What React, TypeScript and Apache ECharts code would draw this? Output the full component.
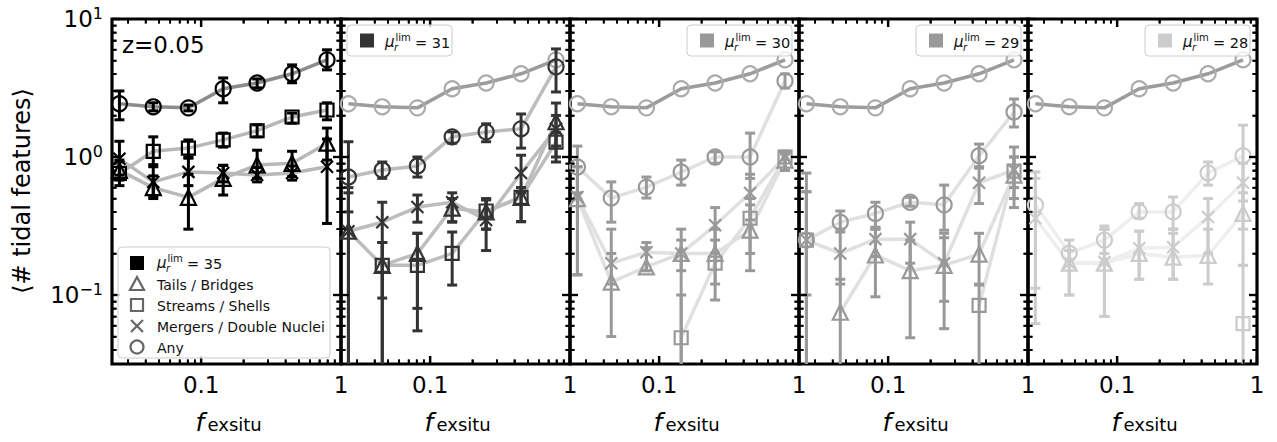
import React, { useEffect, useRef } from "react";
import * as echarts from "echarts";

// ---------- data ----------
const fx = [0.026, 0.0454, 0.081, 0.1436, 0.2512, 0.4467, 0.7943];
const muValues = ["35", "31", "30", "29", "28"];

const xMajor = [0.1, 1];
const xTickLabels = ["0.1", "1"];
const xMinor = [0.03, 0.04, 0.05, 0.06, 0.07, 0.08, 0.09, 0.2, 0.3, 0.4, 0.5, 0.6, 0.7, 0.8, 0.9];
const yMajor = [0.1, 1, 10];
const yTickExp = ["\u22121", "0", "1"];
const yMinor = [0.04, 0.05, 0.06, 0.07, 0.08, 0.09, 0.2, 0.3, 0.4, 0.5, 0.6, 0.7, 0.8, 0.9, 2, 3, 4, 5, 6, 7, 8, 9];

// mu = 35
const tails35 = [0.8, 0.6, 0.51, 0.7, 0.875, 0.9, 1.26];
const tails35Err = [[0.68, 0.95], [0.5, 0.73], [0.3, 0.75], [0.53, 0.87], [0.7, 1.12], [0.72, 1.1], [0.95, 1.62]];
const streams35 = [0.76, 1.1, 1.16, 1.33, 1.55, 1.95, 2.19];
const streams35Err = [[0.62, 0.92], [0.88, 1.4], [1.0, 1.33], [1.18, 1.49], [1.4, 1.71], [1.76, 2.08], [1.86, 2.47]];
const mergers35 = [0.97, 0.66, 0.78, 0.765, 0.74, 0.765, 0.85];
const mergers35Err = [[0.74, 1.3], [0.52, 0.85], [0.62, 0.98], [0.66, 0.87], [0.66, 0.84], [0.68, 0.86], [0.33, 1.35]];
const any35 = [2.43, 2.31, 2.27, 3.12, 3.44, 4.01, 5.06];
const any35Err = [[1.86, 3.01], [2.16, 2.47], [2.16, 2.38], [2.47, 3.74], [3.17, 3.68], [3.45, 4.65], [4.28, 5.98]];

// mu = 31
const tails31 = [0.29, 0.164, 0.2, 0.426, 0.4, 0.51, 1.8];
const tails31Err = [[0.001, 0.55], [0.001, 0.24], [0.08, 0.28], [0.34, 0.5], [0.3, 0.5], [0.34, 0.6], [1.2, 2.46]];
const streams31 = [null, 0.164, 0.164, 0.2, 0.406, 0.51, 1.28];
const streams31Err = [null, [0.001, 0.24], [0.055, 0.28], [0.118, 0.286], [0.3, 0.49], [0.34, 0.6], [0.92, 1.5]];
const mergers31 = [0.29, 0.337, 0.434, 0.47, 0.35, 0.765, 1.6];
const mergers31Err = [[0.001, 0.6], [0.095, 0.47], [0.337, 0.53], [0.337, 0.55], [0.21, 0.49], [0.55, 1.03], [1.0, 2.0]];
const any31 = [0.716, 0.805, 0.86, 1.4, 1.52, 1.6, 4.5];
const any31Err = [[0.4, 1.29], [0.7, 0.92], [0.716, 1.0], [1.26, 1.52], [1.29, 1.74], [1.16, 2.05], [2.96, 6.07]];

// mu = 30
const tails30 = [0.5, 0.124, 0.16, 0.2, 0.2, 0.295, 0.95];
const tails30Err = [[0.14, 0.85], [0.05, 0.2], [0.15, 0.22], [0.001, 0.3], [0.12, 0.3], [0.15, 0.45], [0.8, 1.05]];
const streams30 = [null, null, null, 0.049, 0.17, 0.36, 1.0];
const streams30Err = [null, null, null, [0.001, 0.1], [0.092, 0.25], [0.2, 0.5], [0.8, 1.1]];
const mergers30 = [0.513, 0.17, 0.204, 0.2, 0.32, 0.548, 1.0];
const mergers30Err = [[0.14, 0.85], [0.12, 0.3], [0.15, 0.24], [0.15, 0.25], [0.2, 0.43], [0.35, 0.75], [0.8, 1.1]];
const any30 = [0.846, 0.504, 0.605, 0.778, 1.0, 1.0, 3.56];
const any30Err = [[0.55, 1.2], [0.337, 0.66], [0.504, 0.716], [0.626, 0.95], [0.9, 1.09], [0.7, 1.49], [3.16, 4.0]];

// mu = 29
const tails29 = [null, 0.075, 0.195, 0.15, 0.164, 0.198, 0.74];
const tails29Err = [null, [0.001, 0.13], [0.097, 0.3], [0.049, 0.25], [0.057, 0.26], [0.12, 0.28], [0.43, 1.0]];
const streams29 = [0.25, null, null, null, null, 0.084, 0.79];
const streams29Err = [[0.001, 0.56], null, null, null, null, [0.001, 0.118], [0.5, 1.18]];
const mergers29 = [0.25, 0.2, 0.254, 0.254, 0.17, 0.65, 0.805];
const mergers29Err = [[0.001, 0.56], [0.12, 0.3], [0.19, 0.31], [0.17, 0.337], [0.09, 0.28], [0.46, 0.85], [0.6, 1.0]];
const any29 = [0.25, 0.337, 0.39, 0.47, 0.45, 1.02, 2.12];
const any29Err = [[0.1, 0.765], [0.286, 0.406], [0.3, 0.47], [0.44, 0.51], [0.295, 0.626], [0.83, 1.24], [1.65, 2.63]];

// mu = 28
const tails28 = [null, 0.17, 0.17, 0.2, 0.188, 0.194, 0.39];
const tails28Err = [null, [0.1, 0.21], [0.07, 0.3], [0.13, 0.29], [0.13, 0.28], [0.12, 0.3], [0.164, 0.55]];
const streams28 = [null, null, null, null, null, null, 0.062];
const streams28Err = [null, null, null, null, null, null, [0.001, 0.164]];
const mergers28 = [0.36, 0.17, 0.173, 0.218, 0.222, 0.367, 0.65];
const mergers28Err = [[0.062, 0.7], [0.1, 0.21], [0.07, 0.3], [0.13, 0.29], [0.13, 0.3], [0.2, 0.5], [0.3, 0.9]];
const any28 = [0.449, 0.201, 0.25, 0.4, 0.4, 0.765, 1.02];
const any28Err = [[0.112, 0.78], [0.18, 0.25], [0.2, 0.316], [0.36, 0.46], [0.3, 0.513], [0.626, 0.92], [0.48, 1.7]];

const legendLabels = ["Tails / Bridges", "Streams / Shells", "Mergers / Double Nuclei", "Any"];

// ---------- layout / style ----------
const XMIN = 0.02301;
const XMAX = 1;
const YMIN = Math.pow(10, -1.5);
const YMAX = 10;
const GRID_LEFT = [112, 341, 570, 799, 1028];
const GRID_W = 229;
const GRID_TOP = 19;
const GRID_H = 345;
const FONT = "DejaVu Sans";

const markerColors = ["#000000", "#333333", "#999999", "#999999", "#cccccc"];
const lineColors = ["#b8b8b8", "#bdbdbd", "#e0e0e0", "#e0e0e0", "#eeeeee"];
const REF_LINE = "#9c9c9c";
const REF_MARK = "#ababab";

const XPATH = "path://M0,0L10,10M0,10L10,0";

const panels = [
  { tails: tails35, tailsErr: tails35Err, streams: streams35, streamsErr: streams35Err, mergers: mergers35, mergersErr: mergers35Err, any: any35, anyErr: any35Err },
  { tails: tails31, tailsErr: tails31Err, streams: streams31, streamsErr: streams31Err, mergers: mergers31, mergersErr: mergers31Err, any: any31, anyErr: any31Err },
  { tails: tails30, tailsErr: tails30Err, streams: streams30, streamsErr: streams30Err, mergers: mergers30, mergersErr: mergers30Err, any: any30, anyErr: any30Err },
  { tails: tails29, tailsErr: tails29Err, streams: streams29, streamsErr: streams29Err, mergers: mergers29, mergersErr: mergers29Err, any: any29, anyErr: any29Err },
  { tails: tails28, tailsErr: tails28Err, streams: streams28, streamsErr: streams28Err, mergers: mergers28, mergersErr: mergers28Err, any: any28, anyErr: any28Err },
];

function lineSeries(gi: number, ys: any[], symbol: string, size: number, markerColor: string, lineColor: string, z: number) {
  return {
    type: "line",
    xAxisIndex: gi,
    yAxisIndex: gi,
    data: fx.map((x, i) => [x, ys[i] == null ? "-" : ys[i]]),
    symbol,
    symbolSize: size,
    showAllSymbol: true,
    connectNulls: false,
    lineStyle: { color: lineColor, width: 3.5 },
    itemStyle: { color: "rgba(0,0,0,0)", borderColor: markerColor, borderWidth: 2.2 },
    emphasis: { disabled: true },
    silent: true,
    z,
  };
}

function errSeries(gi: number, ys: any[], errs: any[], color: string, z: number) {
  const data: number[][] = [];
  fx.forEach((x, i) => {
    if (ys[i] != null && errs[i]) data.push([x, errs[i][0], errs[i][1]]);
  });
  return {
    type: "custom",
    xAxisIndex: gi,
    yAxisIndex: gi,
    data,
    dimensions: ["x", "lo", "hi"],
    encode: { x: "x", y: ["lo", "hi"] },
    silent: true,
    z,
    renderItem: (params: any, api: any) => {
      const cs = params.coordSys;
      const x = api.value(0);
      const pTop = api.coord([x, api.value(2)]);
      const pBot = api.coord([x, api.value(1)]);
      const bottom = cs.y + cs.height;
      const cx = pTop[0];
      const yb = Math.min(pBot[1], bottom);
      const yt = Math.max(pTop[1], cs.y);
      const w = 5;
      const children: any[] = [{ type: "line", shape: { x1: cx, y1: yt, x2: cx, y2: yb }, style: { stroke: color, lineWidth: 3 } }];
      if (pTop[1] >= cs.y) children.push({ type: "line", shape: { x1: cx - w, y1: pTop[1], x2: cx + w, y2: pTop[1] }, style: { stroke: color, lineWidth: 3 } });
      if (pBot[1] <= bottom) children.push({ type: "line", shape: { x1: cx - w, y1: pBot[1], x2: cx + w, y2: pBot[1] }, style: { stroke: color, lineWidth: 3 } });
      return { type: "group", children };
    },
  };
}

// tick marks (graphic fallback, same log mapping as each grid's axes)
function buildTicks() {
  const out: any[] = [];
  const lx0 = Math.log10(XMIN), lx1 = Math.log10(XMAX);
  const ly0 = Math.log10(YMIN), ly1 = Math.log10(YMAX);
  GRID_LEFT.forEach((left) => {
    const right = left + GRID_W;
    const top = GRID_TOP;
    const bottom = GRID_TOP + GRID_H;
    const px = (v: number) => left + ((Math.log10(v) - lx0) / (lx1 - lx0)) * GRID_W;
    const py = (v: number) => bottom - ((Math.log10(v) - ly0) / (ly1 - ly0)) * GRID_H;
    const add = (x1: number, y1: number, x2: number, y2: number, major: boolean) =>
      out.push({ type: "line", z: 104, shape: { x1, y1, x2, y2 }, style: { fill: "none", stroke: "#000", lineWidth: major ? 2.2 : 1.7 } });
    xMajor.concat(xMinor).forEach((v, k) => {
      const major = k < xMajor.length;
      const len = major ? 8 : 4.5;
      const x = px(v);
      add(x, bottom, x, bottom - len, major);
      add(x, top, x, top + len, major);
    });
    yMajor.concat(yMinor).forEach((v, k) => {
      const major = k < yMajor.length;
      const len = major ? 8 : 4.5;
      const y = py(v);
      add(left, y, left + len, y, major);
      add(right, y, right - len, y, major);
    });
  });
  return out;
}

function muText(x: number, cy: number, value: string) {
  return [
    { type: "text", x, y: cy, style: { text: "\u03bc", font: `italic 15px "${FONT}"`, fill: "#111", verticalAlign: "middle", align: "left" }, z: 106 },
    { type: "text", x: x + 9, y: cy + 5, style: { text: "r", font: `italic 10px "${FONT}"`, fill: "#111", verticalAlign: "middle", align: "left" }, z: 106 },
    { type: "text", x: x + 10.5, y: cy - 5, style: { text: "lim", font: `10px "${FONT}"`, fill: "#111", verticalAlign: "middle", align: "left" }, z: 106 },
    { type: "text", x: x + 30, y: cy + 1, style: { text: "= " + value, font: `14.5px "${FONT}"`, fill: "#111", verticalAlign: "middle", align: "left" }, z: 106 },
  ];
}

function buildGraphics() {
  const g: any[] = [];
  g.push({
    type: "text", x: 22, y: 191, rotation: Math.PI / 2,
    style: { text: "\u27e8# tidal features\u27e9", font: `24px "${FONT}"`, fill: "#000", align: "center", verticalAlign: "middle" },
  });
  g.push({ type: "text", x: 122, y: 45, style: { text: "z=0.05", font: `23px "${FONT}"`, fill: "#000", align: "left", verticalAlign: "middle" }, z: 50 });
  GRID_LEFT.forEach((l) => {
    const c = l + GRID_W / 2;
    g.push({ type: "text", x: c - 31, y: 410, style: { text: "f", font: `italic 25px "${FONT}"`, fill: "#000", align: "left", verticalAlign: "alphabetic" } });
    g.push({ type: "text", x: c - 19, y: 415, style: { text: "exsitu", font: `18px "${FONT}"`, fill: "#000", align: "left", verticalAlign: "alphabetic" } });
  });
  g.push(...buildTicks());
  const stroke = "#666";
  g.push({ type: "rect", shape: { x: 118, y: 247, width: 212, height: 111, r: 4 }, style: { fill: "rgba(255,255,255,0.8)", stroke: "#cccccc", lineWidth: 1 }, z: 105 });
  const rows = [263, 284, 305, 326, 347];
  const mx = 137;
  g.push({ type: "rect", shape: { x: mx - 7, y: rows[0] - 7, width: 14, height: 14 }, style: { fill: "#000" }, z: 106 });
  g.push(...muText(157, rows[0], muValues[0]));
  const ms = () => ({ fill: "none", stroke, lineWidth: 2.2 });
  g.push({ type: "polygon", shape: { points: [[mx, rows[1] - 7], [mx - 7, rows[1] + 6], [mx + 7, rows[1] + 6]] }, style: ms(), z: 106 });
  g.push({ type: "rect", shape: { x: mx - 6, y: rows[2] - 6, width: 12, height: 12 }, style: ms(), z: 106 });
  g.push({ type: "line", shape: { x1: mx - 6, y1: rows[3] - 6, x2: mx + 6, y2: rows[3] + 6 }, style: ms(), z: 106 });
  g.push({ type: "line", shape: { x1: mx - 6, y1: rows[3] + 6, x2: mx + 6, y2: rows[3] - 6 }, style: ms(), z: 106 });
  g.push({ type: "circle", shape: { cx: mx, cy: rows[4], r: 6.5 }, style: ms(), z: 106 });
  legendLabels.forEach((t, i) => {
    g.push({ type: "text", x: 157, y: rows[i + 1] + 1, style: { text: t, font: `14px "${FONT}"`, fill: "#111", align: "left", verticalAlign: "middle" }, z: 106 });
  });
  for (let i = 1; i < 5; i++) {
    const bx = i === 1 ? GRID_LEFT[1] + 6 : GRID_LEFT[i] + GRID_W - 7 - 105;
    g.push({ type: "rect", shape: { x: bx, y: 25, width: 105, height: 31, r: 4 }, style: { fill: "rgba(255,255,255,0.8)", stroke: "#cccccc", lineWidth: 1 }, z: 105 });
    g.push({ type: "rect", shape: { x: bx + 13, y: 33.5, width: 14, height: 14 }, style: { fill: markerColors[i] }, z: 106 });
    g.push(...muText(bx + 38, 42, muValues[i]));
  }
  return g;
}

function tickAxisCfg(values: number[], len: number, width: number) {
  return {
    show: true, inside: true, length: len, interval: 0,
    lineStyle: { color: "#000", width },
    customValues: values,
  };
}

function buildOption() {
  const grid = GRID_LEFT.map((l) => ({
    left: l, top: GRID_TOP, width: GRID_W, height: GRID_H,
    show: true, borderColor: "#000", borderWidth: 3.2, backgroundColor: "transparent",
  }));
  const noLabel = { show: false };
  const xAxis: any[] = [];
  const yAxis: any[] = [];
  // primary axes (bottom / left) carrying labels and major ticks
  GRID_LEFT.forEach((_, i) => {
    xAxis.push({
      type: "log", logBase: 10, gridIndex: i, min: XMIN, max: XMAX, position: "bottom",
      axisLine: { show: false }, splitLine: { show: false }, minorTick: { show: false },
      axisTick: tickAxisCfg(xMajor, 8, 2.2),
      axisLabel: {
        interval: 0, margin: 9, fontSize: 23, fontFamily: FONT, color: "#000",
        formatter: (v: number) => {
          const k = xMajor.findIndex((m) => Math.abs(Math.log10(v) - Math.log10(m)) < 1e-6);
          return k >= 0 ? xTickLabels[k] : "";
        },
      },
    });
    yAxis.push({
      type: "log", logBase: 10, gridIndex: i, min: YMIN, max: YMAX, position: "left",
      axisLine: { show: false }, splitLine: { show: false }, minorTick: { show: false },
      axisTick: tickAxisCfg(yMajor, 8, 2.2),
      axisLabel: {
        show: i === 0, interval: 0, margin: 9, color: "#000", fontFamily: FONT,
        formatter: (v: number) => {
          const k = yMajor.findIndex((m) => Math.abs(Math.log10(v) - Math.log10(m)) < 1e-6);
          return k >= 0 ? `{b|10}{s|${yTickExp[k]}}` : "";
        },
        rich: {
          b: { fontSize: 23, fontFamily: FONT, color: "#000", lineHeight: 23 },
          s: { fontSize: 16, fontFamily: FONT, color: "#000", lineHeight: 16, padding: [0, 0, 11, 0] },
        },
      },
    });
  });
  // extra tick-only axes: minor bottom/left, major+minor top/right
  const extras: [string, string, number[], number, number][] = [
    ["x", "bottom", xMinor, 4.5, 1.7],
    ["x", "top", xMajor, 8, 2.2],
    ["x", "top", xMinor, 4.5, 1.7],
    ["y", "left", yMinor, 4.5, 1.7],
    ["y", "right", yMajor, 8, 2.2],
    ["y", "right", yMinor, 4.5, 1.7],
  ];
  extras.forEach(([dim, pos, vals, len, w]) => {
    GRID_LEFT.forEach((_, i) => {
      const ax = {
        type: "log", logBase: 10, gridIndex: i, position: pos, offset: 0,
        min: dim === "x" ? XMIN : YMIN, max: dim === "x" ? XMAX : YMAX,
        axisLine: { show: false }, splitLine: { show: false }, minorTick: { show: false },
        axisLabel: noLabel,
        axisTick: tickAxisCfg(vals, len, w),
      };
      if (dim === "x") xAxis.push(ax);
      else yAxis.push(ax);
    });
  });

  const series: any[] = [];
  panels.forEach((p, i) => {
    if (i > 0) series.push(lineSeries(i, any35, "circle", 15, REF_MARK, REF_LINE, 3));
    const mc = markerColors[i];
    const lc = lineColors[i];
    series.push(lineSeries(i, p.tails, "triangle", 15, mc, lc, 4));
    series.push(errSeries(i, p.tails, p.tailsErr, mc, 5));
    series.push(lineSeries(i, p.streams, "rect", 13, mc, lc, 4));
    series.push(errSeries(i, p.streams, p.streamsErr, mc, 5));
    series.push(lineSeries(i, p.mergers, XPATH, 12, mc, lc, 4));
    series.push(errSeries(i, p.mergers, p.mergersErr, mc, 5));
    series.push(lineSeries(i, p.any, "circle", 15, mc, i === 0 ? "#8c8c8c" : lc, 4));
    series.push(errSeries(i, p.any, p.anyErr, mc, 5));
  });
  return {
    animation: false,
    backgroundColor: "#fff",
    textStyle: { fontFamily: FONT },
    grid, xAxis, yAxis, series,
    graphic: { elements: buildGraphics() },
  };
}

export default function App() {
  const ref = useRef<HTMLDivElement>(null);
  useEffect(() => {
    if (!ref.current) return;
    const chart = echarts.init(ref.current, null, { renderer: "svg" });
    chart.setOption(buildOption() as any);
    return () => chart.dispose();
  }, []);
  return <div ref={ref} style={{ position: "absolute", left: 0, top: 0, width: 1277, height: 442, background: "#fff" }} />;
}
